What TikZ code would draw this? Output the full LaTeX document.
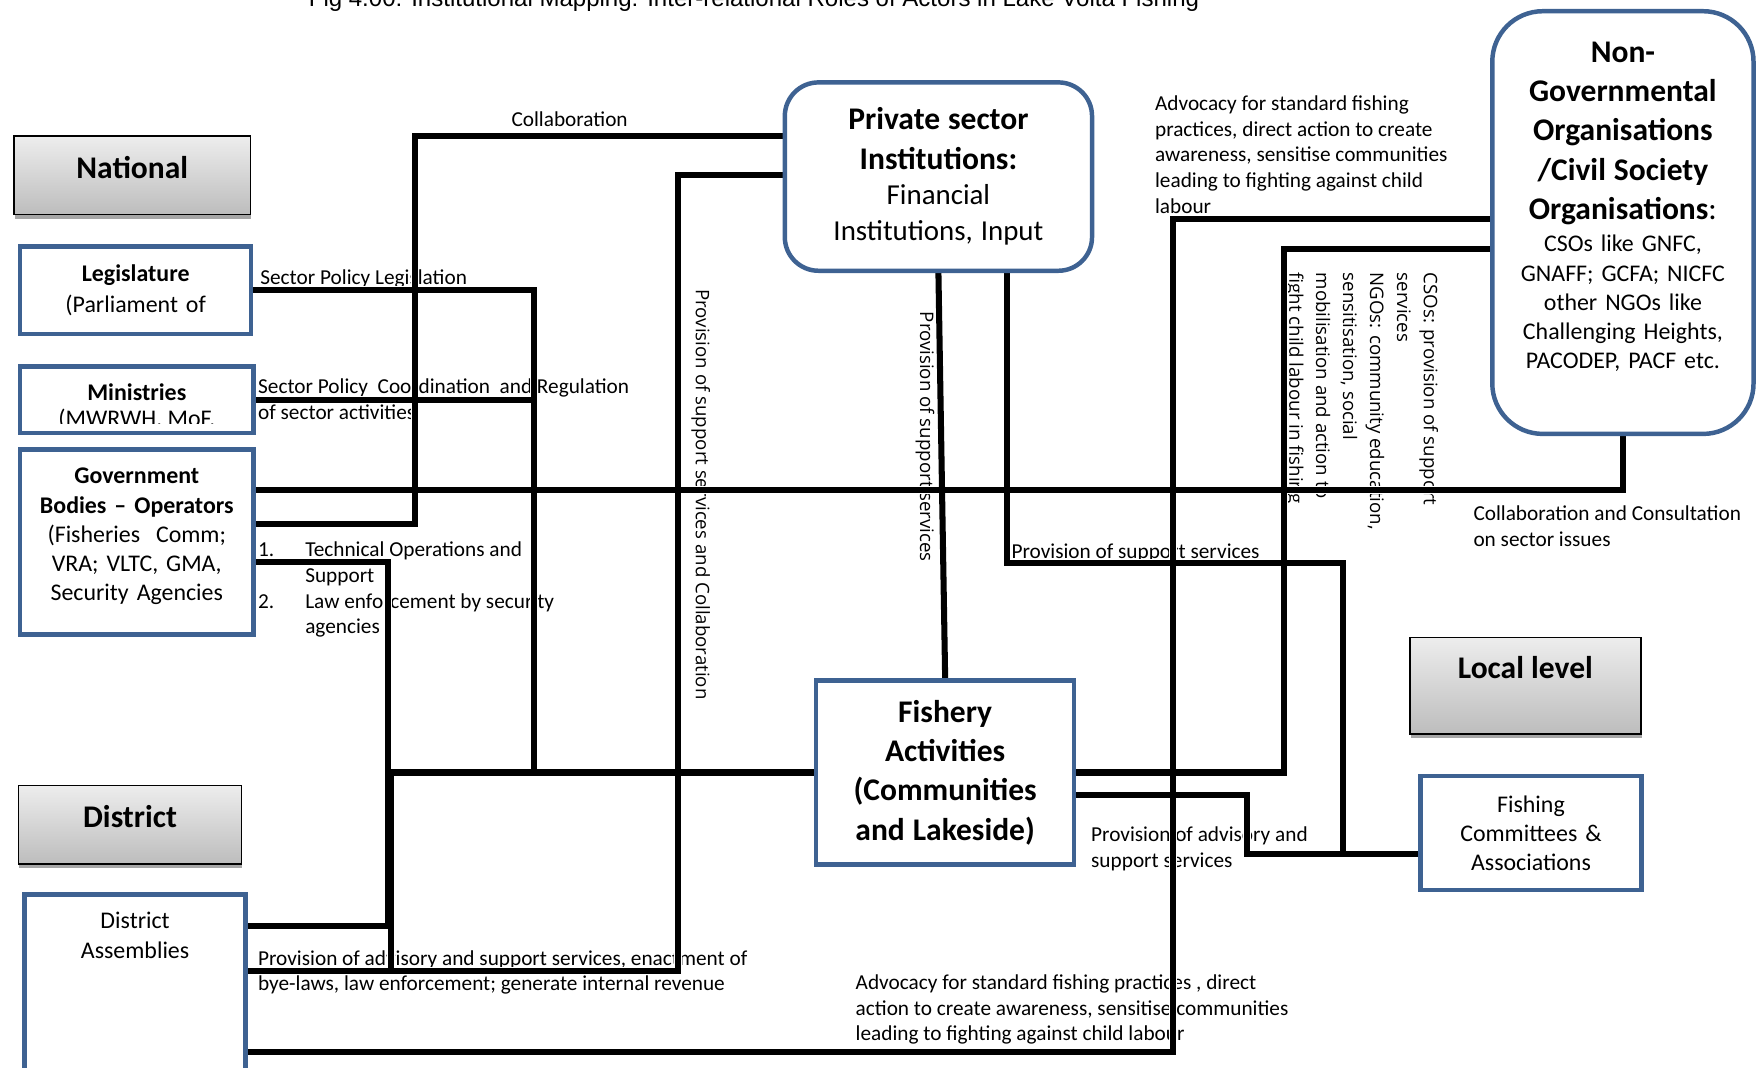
\documentclass[tikz,border=0pt]{standalone}
\usepackage{fontspec}
\setmainfont{Carlito}
\newfontfamily\rotfont{Open Sans}
\newfontfamily\capfont{Liberation Sans}
\usetikzlibrary{shadows,backgrounds}
\definecolor{actorblue}{RGB}{62,98,146}
\newlength\listind
\setlength\listind{35.9pt}
\newcommand\lblfont{\fontsize{16.2}{19.6}\selectfont}
\newcommand\boxfont{\fontsize{18.2}{22.2}\selectfont}
\newcommand\headfont{\fontsize{24}{29.9}\selectfont\bfseries}
\newcommand\subfont{\fontsize{22}{27.3}\selectfont}
\newcommand\rotlblfont{\rotfont\fontsize{14.2}{20.5}\selectfont}
\newcommand\govttext{\textbf{Government}\\\textbf{Bodies -- Operators}\\(Fisheries~ Comm;\\VRA; VLTC, GMA,\\Security Agencies}
\newcommand\ngotext{{\headfont Non-\\Governmental\\Organisations\\/Civil Society\\Organisations\textmd{:}\par}\vspace{2.5pt}
  {\boxfont CSOs like GNFC,\\GNAFF; GCFA; NICFC\\other NGOs like\\Challenging Heights,\\PACODEP, PACF etc.\par}}
\tikzset{
  actorbox/.style={draw=actorblue,line width=3.4pt,fill=white,inner sep=0pt,
    align=center,font=\boxfont},
  boxtext/.style={inner sep=0pt,align=center,font=\boxfont},
  levelbox/.style={draw=black,line width=1.2pt,top color=black!7,bottom color=black!26,
    inner sep=0pt,font=\headfont,
    drop shadow={shadow xshift=0.5pt,shadow yshift=-3.5pt,fill=black!35,opacity=1}},
  linklabel/.style={anchor=north west,inner sep=0pt,align=left,font=\lblfont},
  rotlabel/.style={rotate=-90,inner sep=0pt,align=left,font=\rotlblfont},
  route/.style={line cap=butt,line join=miter},
}

\begin{document}
\begin{tikzpicture}[x=0.03cm,y=-0.03cm]
\useasboundingbox (0,0) rectangle (1568,952);
\node[anchor=base,font=\capfont\fontsize{18.3}{22}\selectfont] (caption) at (672.5,6)
  {Fig 4.00: Institutional Mapping: Inter-relational Roles of Actors in Lake Volta Fishing};

\node[levelbox,minimum width=6.33cm,minimum height=2.1cm,text depth=13pt] (national) at (118,156.5) {National};
\node[levelbox,minimum width=5.97cm,minimum height=2.1cm,text depth=13pt] (district) at (116,735.5) {District};
\node[levelbox,minimum width=6.18cm,minimum height=2.58cm,text depth=27pt] (local) at (1360.5,611.5) {Local level};

\node[actorbox,minimum width=6.18cm,minimum height=2.34cm,text width=5.8cm] (legis) at (121,259)
  {\textbf{Legislature}\\[1.7pt](Parliament of};
\node[actorbox,minimum width=6.24cm,minimum height=1.77cm] (minis) at (122,356.5) {};
\begin{scope}
  \clip (20,329) rectangle (224,377.5);
  \node[anchor=base,font=\boxfont\bfseries] (ministitle) at (122,357) {Ministries};
  \node[anchor=base,font=\boxfont] (ministsub) at (122,380) {(MWRWH, MoF,};
\end{scope}
\node[actorbox,minimum width=6.24cm,minimum height=4.95cm,
  label={[boxtext,text width=5.9cm,yshift=4.3pt]center:\govttext}] (govt) at (122,483.5) {};
\node[actorbox,minimum width=5.91cm,minimum height=6.06cm,
  label={[boxtext,anchor=north,yshift=-15pt]north:{District\\Assemblies}}] (distass) at (120.5,899) {};
\node[actorbox,rounded corners=0.9cm,minimum width=8.22cm,minimum height=5.04cm,text width=7.8cm] (private) at (837,157.5)
  {{\headfont Private sector\\Institutions:\par}{\subfont Financial\\Institutions, Input\par}};
\node[actorbox,rounded corners=1.35cm,minimum width=6.99cm,minimum height=11.31cm,
  label={[boxtext,text width=6.6cm,yshift=12pt]center:\ngotext}] (ngo) at (1447.5,198.5) {};
\node[actorbox,minimum width=6.9cm,minimum height=4.92cm,text width=6.5cm] (fishery) at (843,689)
  {{\headfont Fishery\\Activities\\(Communities\\and Lakeside)\par}};
\node[actorbox,minimum width=5.91cm,minimum height=3.06cm,text width=5.5cm] (fishcom) at (1365.5,743)
  {Fishing\\Committees \&\\Associations};

\coordinate (cola) at (370,467);
\coordinate (colb) at (370,121);
\coordinate (supa) at (605,156);
\coordinate (supb) at (605,866);
\coordinate (lega) at (476,259);
\coordinate (legb) at (476,689);
\coordinate (cons) at (1447.5,437);
\coordinate (teca) at (346,501);
\coordinate (tecb) at (346,826);
\coordinate (comb) at (349,689);
\coordinate (adva) at (1046,938);
\coordinate (advb) at (1046,195);
\coordinate (csoa) at (1145,222);
\coordinate (csob) at (1145,689);
\coordinate (ppa) at (898,502);
\coordinate (ppb) at (1198,502);
\coordinate (ppc) at (1198,762);
\coordinate (fca) at (1112,709);
\coordinate (fcb) at (1112,762);

\begin{pgfonlayer}{background}
\node[linklabel] (collabtxt) at (456,99) {Collaboration};
\node[linklabel] (legtxt) at (232,240) {Sector Policy Legislation};
\node[linklabel] (mintxt) at (230,338) {Sector Policy~ Coordination~ and Regulation\\of sector activities};
\node[linklabel] (techtxt) at (230,483)
  {\makebox[\listind][l]{1.}Technical Operations and\\\hspace*{\listind}Support\\
   \makebox[\listind][l]{2.}Law enforcement by security\\\hspace*{\listind}agencies};
\node[linklabel] (datxt) at (230,847.5)
  {Provision of advisory and support services, enactment of\\bye-laws, law enforcement; generate internal revenue};
\node[linklabel] (advlow) at (763,869)
  {Advocacy for standard fishing practices , direct\\action to create awareness, sensitise communities\\leading to fighting against child labour};
\node[linklabel] (advsrv) at (973,737) {Provision of advisory and\\support services};
\node[linklabel] (supsrv) at (902,485) {Provision of support services};
\node[linklabel] (constxt) at (1314,451) {Collaboration and Consultation\\on sector issues};
\node[linklabel] (advtop) at (1030,85)
  {Advocacy for standard fishing\\practices, direct action to create\\awareness, sensitise communities\\leading to fighting against child\\labour};
\node[rotlabel,anchor=west] (collablbl) at (625,258) {Provision of support services and Collaboration};
\node[rotlabel,anchor=west] (supportlbl) at (825,278) {Provision of support services};
\node[rotlabel,anchor=north west] (csolbl) at (1283,243)
  {CSOs: provision of support\\services\\NGOs: community education,\\sensitisation, social\\mobilisation and action to\\fight child labour in fishing};

\foreach \routecol/\routew in {white/6pt,black/4.6pt}{
  \draw[route,draw=\routecol,line width=\routew] (govt.east |- cola) -- (cola) -- (colb) -- (private.west |- colb);
  \draw[route,draw=\routecol,line width=\routew] (private.west |- supa) -- (supa) -- (supb) -- (distass.east |- supb);
  \draw[route,draw=\routecol,line width=\routew] (legis.east) -- (lega) -- (legb);
  \draw[route,draw=\routecol,line width=\routew] (minis.east) -- (minis.east -| lega);
  \draw[route,draw=\routecol,line width=\routew] (govt.east |- cons) -- (cons) -- (ngo.south);
  \draw[route,draw=\routecol,line width=\routew] (govt.east |- teca) -- (teca) -- (tecb) -- (distass.east |- tecb);
  \draw[route,draw=\routecol,line width=\routew] (fishery.west) -- (comb) -- (comb |- supb);
  \draw[route,draw=\routecol,line width=\routew] (distass.east |- adva) -- (adva) -- (advb) -- (ngo.west |- advb);
  \draw[route,draw=\routecol,line width=\routew] (ngo.west |- csoa) -- (csoa) -- (csob) -- (fishery.east);
  \draw[route,draw=\routecol,line width=\routew] (private.south) -- (fishery.north);
  \draw[route,draw=\routecol,line width=\routew] (private.south -| ppa) -- (ppa) -- (ppb) -- (ppc);
  \draw[route,draw=\routecol,line width=\routew] (fishery.east |- fca) -- (fca) -- (fcb) -- (fishcom.west |- fcb);
}
\end{pgfonlayer}
\end{tikzpicture}
\end{document}
